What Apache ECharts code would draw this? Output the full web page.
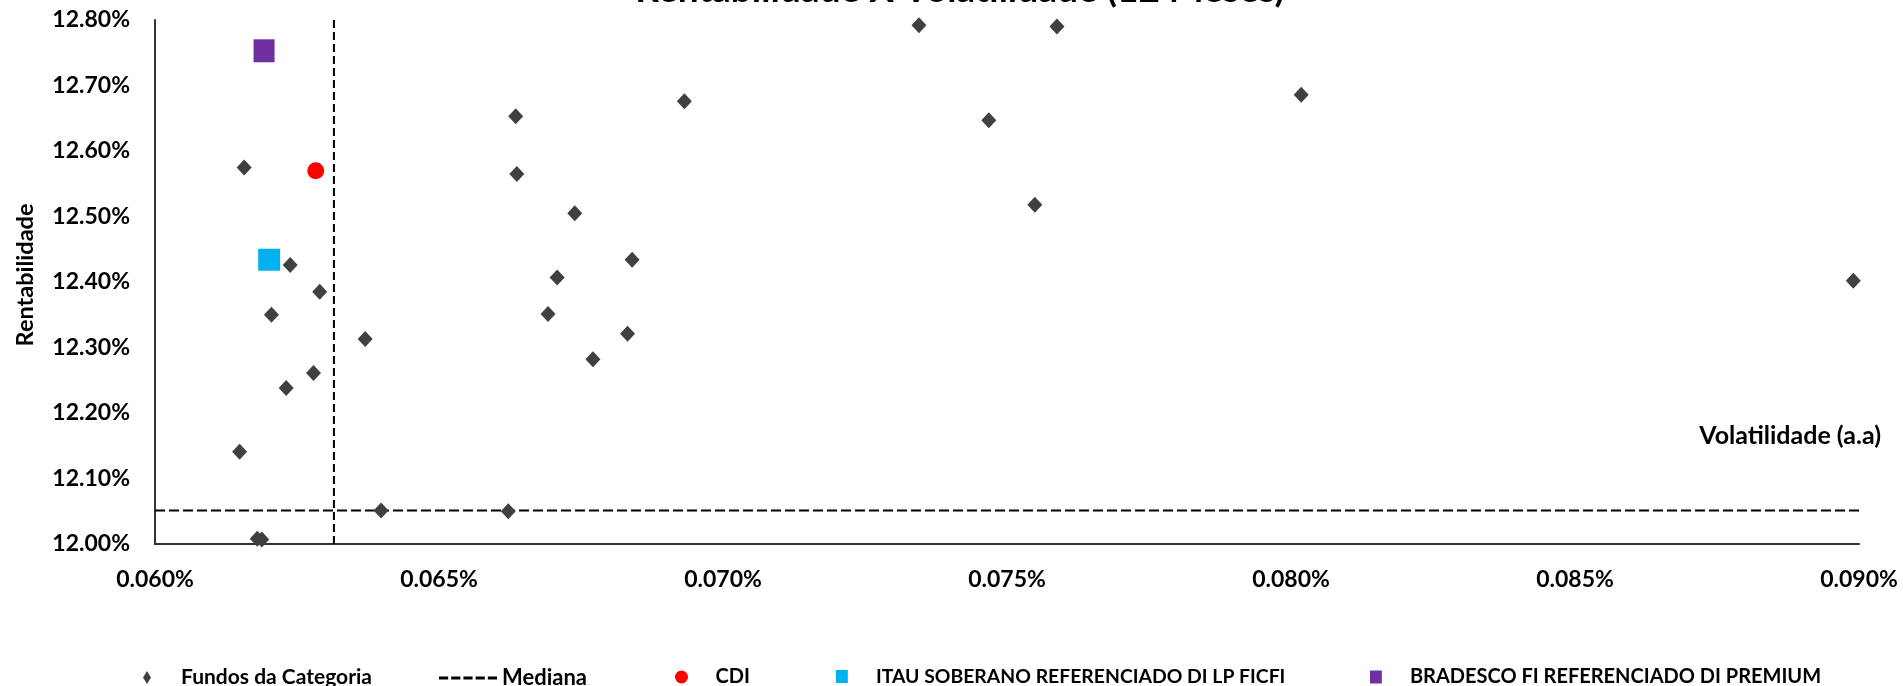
<!DOCTYPE html>
<html>
<head>
<meta charset="utf-8">
<script src="https://cdn.jsdelivr.net/npm/echarts@6/dist/echarts.min.js"></script>
<style>
    html, body { margin: 0; padding: 0; background: #fff; }
    #chart { width: 1903px; height: 686px; }
</style>
</head>
<body>
<div id="chart"></div>
<script>
// volatilidade (% a.a) e rentabilidade (%) dos fundos da categoria
var fundosVol = [0.06157, 0.06238, 0.06290, 0.06205, 0.06370, 0.06279, 0.06231, 0.06149, 0.06398,
    0.06180, 0.06188, 0.06622, 0.06635, 0.06932, 0.06637, 0.06739, 0.06840, 0.06708, 0.06692,
    0.06832, 0.06771, 0.07345, 0.07588, 0.08018, 0.07468, 0.07549, 0.08990];
var fundosRet = [12.575, 12.426, 12.385, 12.350, 12.313, 12.261, 12.238, 12.141, 12.051,
    12.008, 12.007, 12.050, 12.653, 12.676, 12.565, 12.505, 12.434, 12.407, 12.351,
    12.321, 12.282, 12.792, 12.790, 12.686, 12.647, 12.518, 12.402];
var medianaVol = 0.06315;
var medianaRet = 12.051;
var cdi = [0.06283, 12.570];
var itau = [0.06201, 12.434];
var bradesco = [0.06192, 12.753];

var xTicks = [0.060, 0.065, 0.070, 0.075, 0.080, 0.085, 0.090];
var yTicks = [12.00, 12.10, 12.20, 12.30, 12.40, 12.50, 12.60, 12.70, 12.80];

var nomes = ["Fundos da Categoria", "Mediana", "CDI", "ITAU SOBERANO REFERENCIADO DI LP FICFI", "BRADESCO FI REFERENCIADO DI PREMIUM"];
// icones da legenda como path, assim mantem a proporcao
var dashIcon = "path://M0,0h9v3h-9z M12,0h9v3h-9z M24,0h9v3h-9z M36,0h9v3h-9z M48,0h9v3h-9z";
var diamondIcon = "path://M4,0L8,6.5L4,13L0,6.5Z";
var circleIcon = "path://M10,5A5,5,0,1,1,0,5A5,5,0,1,1,10,5Z";
var rectIcon = "path://M0,0h10v11h-10z";
var fonte = "Lato";

var myChart = echarts.init(document.getElementById("chart"));
var xMin = xTicks[0], xMax = xTicks[xTicks.length - 1];
var yMin = yTicks[0], yMax = yTicks[yTicks.length - 1];

var fundosData = fundosVol.map(function(v, i) {
    return [v, fundosRet[i]];
});

// uma legenda por item, para posicionar como no original
function legenda(nome, icon, left, size, cor) {
    var item = { name: nome, icon: icon };
    if (cor) item.itemStyle = { color: cor };
    return {
        left: left,
        top: 662,
        itemWidth: 58,
        itemHeight: 13,
        textStyle: { fontFamily: fonte, fontSize: size, fontWeight: "bold", color: "#000" },
        data: [item]
    };
}

var option = {
    animation: false,
    backgroundColor: "#fff",
    title: [{
        text: "Rentabilidade X Volatilidade (12 Meses)",
        left: 955,
        textAlign: "center",
        top: -33,
        textStyle: { fontFamily: fonte, fontSize: 37, fontWeight: "bold", color: "#000" }
    }, {
        text: "Volatilidade (a.a)",
        right: 17,
        top: 418,
        textStyle: { fontFamily: fonte, fontSize: 25, fontWeight: "bold", color: "#000" }
    }],
    grid: { left: 155, right: 44, top: 20, bottom: 142 },
    legend: [
        legenda(nomes[0], diamondIcon, 138, 21),
        legenda(nomes[1], dashIcon, 434, 22, "#000"),
        legenda(nomes[2], circleIcon, 670, 20),
        legenda(nomes[3], rectIcon, 831, 19.4),
        legenda(nomes[4], rectIcon, 1365, 20)
    ],
    xAxis: {
        type: "value",
        min: xMin,
        max: xMax,
        interval: 0.005,
        splitLine: { show: false },
        axisTick: { show: false },
        axisLine: { lineStyle: { color: "#333", width: 2 } },
        axisLabel: {
            margin: 24,
            showMinLabel: true,
            showMaxLabel: true,
            fontFamily: fonte, fontSize: 23, fontWeight: "bold", color: "#000",
            formatter: function(v) { return v.toFixed(3) + "%"; }
        }
    },
    yAxis: {
        type: "value",
        min: yMin,
        max: yMax,
        interval: 0.1,
        name: "Rentabilidade",
        nameLocation: "middle",
        nameGap: 118,
        nameRotate: 90,
        nameTextStyle: { fontFamily: fonte, fontSize: 23.5, fontWeight: "bold", color: "#000", padding: [0, 0, 0, 14] },
        splitLine: { show: false },
        axisTick: { show: false },
        axisLine: { show: true, lineStyle: { color: "#333", width: 2 } },
        axisLabel: {
            margin: 25,
            fontFamily: fonte, fontSize: 23, fontWeight: "bold", color: "#000",
            formatter: function(v) { return v.toFixed(2) + "%"; }
        }
    },
    series: [{
        name: nomes[1],
        type: "line",
        showSymbol: false,
        silent: true,
        z: 1,
        lineStyle: { color: "#000", width: 2, type: [8, 4] },
        itemStyle: { color: "#000" },
        data: [[medianaVol, yMin], [medianaVol, yMax]]
    }, {
        name: nomes[1],
        type: "line",
        showSymbol: false,
        silent: true,
        z: 1,
        lineStyle: { color: "#000", width: 2, type: [10, 4] },
        itemStyle: { color: "#000" },
        data: [[xMin, medianaRet], [xMax, medianaRet]]
    }, {
        name: nomes[0],
        type: "scatter",
        symbol: "diamond",
        symbolSize: [15, 16],
        itemStyle: { color: "#404040", opacity: 1 },
        data: fundosData
    }, {
        name: nomes[2],
        type: "scatter",
        symbol: "circle",
        symbolSize: 17,
        itemStyle: { color: "#FF0000", opacity: 1 },
        data: [cdi]
    }, {
        name: nomes[3],
        type: "scatter",
        symbol: "rect",
        symbolSize: [22, 22],
        itemStyle: { color: "#00B0F0", opacity: 1 },
        data: [itau]
    }, {
        name: nomes[4],
        type: "scatter",
        symbol: "rect",
        symbolSize: [21, 23],
        itemStyle: { color: "#7030A0", opacity: 1 },
        data: [bradesco]
    }]
};
myChart.setOption(option);
</script>
</body>
</html>
